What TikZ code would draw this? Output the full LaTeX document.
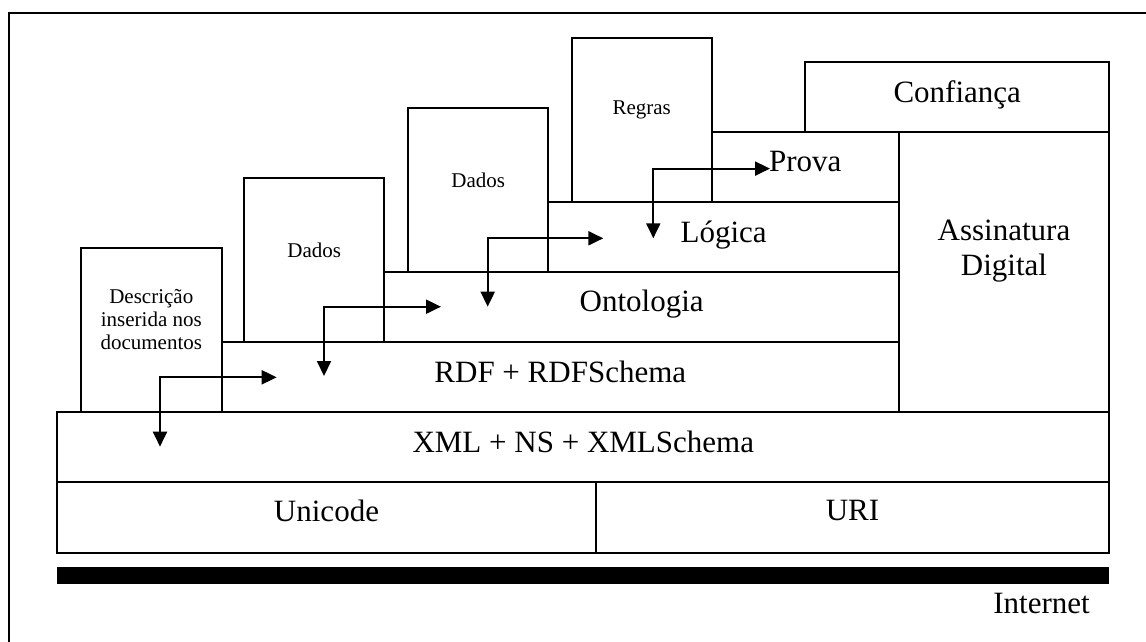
\documentclass[tikz,border=0pt]{standalone}
\usepackage{fontspec}
\setmainfont{Liberation Serif}
\usepackage{tikz}
\usetikzlibrary{arrows.meta}

\tikzset{
  big/.style={font=\fontsize{15.5}{17.5}\selectfont},
  small/.style={font=\fontsize{10.5}{11.5}\selectfont, align=center},
}

\begin{document}
\begin{tikzpicture}[x=0.5pt, y=-0.5pt, line width=1pt, >={Triangle[length=7.5pt,width=7pt]}]
        \useasboundingbox (0,0) rectangle (1146,642);
        \draw[line width=1.25pt] (9,642) -- (9,13) -- (1146,13);
        % upper boxes
        \draw (81,248) rectangle (221.7,411.7);
        \draw (244.3,178.3) rectangle (384.3,341.7);
        \draw (408.3,108.3) rectangle (548.3,271.7);
        \draw (571.7,38.3) rectangle (711.7,201.7);
        \node[small] (descricao) at (151.3,320) {Descrição\\inserida nos\\documentos};
        \node[small] (dados1) at (314.3,250) {Dados};
        \node[small] (dados2) at (478.3,180) {Dados};
        \node[small] (regras) at (641.7,110) {Regras};
        % layers
        \draw (57.3,411.7) rectangle (1109.3,481.7);
        \draw (57.3,481.7) rectangle (595.6,552.7);
        \draw (595.6,481.7) rectangle (1109.3,552.7);
        \draw (221.7,341.7) rectangle (899,411.7);
        \draw (384.3,271.7) rectangle (899,341.7);
        \draw (548.3,201.7) rectangle (899,271.7);
        \draw (711.7,131.7) rectangle (899,201.7);
        \draw (805,61.7) rectangle (1109.3,131.7);
        \draw (899,131.7) rectangle (1109.3,411.7);
        \node[big, text depth=0pt] (xml) at (583.3,442) {XML + NS + XMLSchema};
        \node[big, text depth=0pt] (unicode) at (326.5,510.5) {Unicode};
        \node[big, text depth=0pt] (uri) at (852.5,510.5) {URI};
        \node[big, text depth=0pt] (rdf) at (560.3,371.5) {RDF + RDFSchema};
        \node[big, text depth=0pt] (ontologia) at (641.7,301) {Ontologia};
        \node[big, text depth=0pt] (logica) at (723.7,231.5) {Lógica};
        \node[big, text depth=0pt] (prova) at (805.3,161) {Prova};
        \node[big, text depth=0pt] (confianca) at (957.2,91.2) {Confiança};
        \node[big, align=center] (assinatura) at (1004,251) {Assinatura\\Digital};
        % internet
        \fill (57.3,566.7) rectangle (1109.3,584.3);
        \node[big, text depth=0pt] (internet) at (1041.5,603) {Internet};
        % arrows
        \coordinate (r1) at (276.7,377.3);
        \coordinate (d1) at (160,446.7);
        \coordinate (r2) at (441,306.7);
        \coordinate (d2) at (324,376);
        \coordinate (r3) at (603.3,238.3);
        \coordinate (d3) at (487.7,306.7);
        \coordinate (r4) at (770,168.6);
        \coordinate (d4) at (653.3,238.3);
        \draw[<->] (r1) -| (d1);
        \draw[<->] (r2) -| (d2);
        \draw[<->] (r3) -| (d3);
        \draw[<->] (r4) -| (d4);
\end{tikzpicture}
\end{document}
